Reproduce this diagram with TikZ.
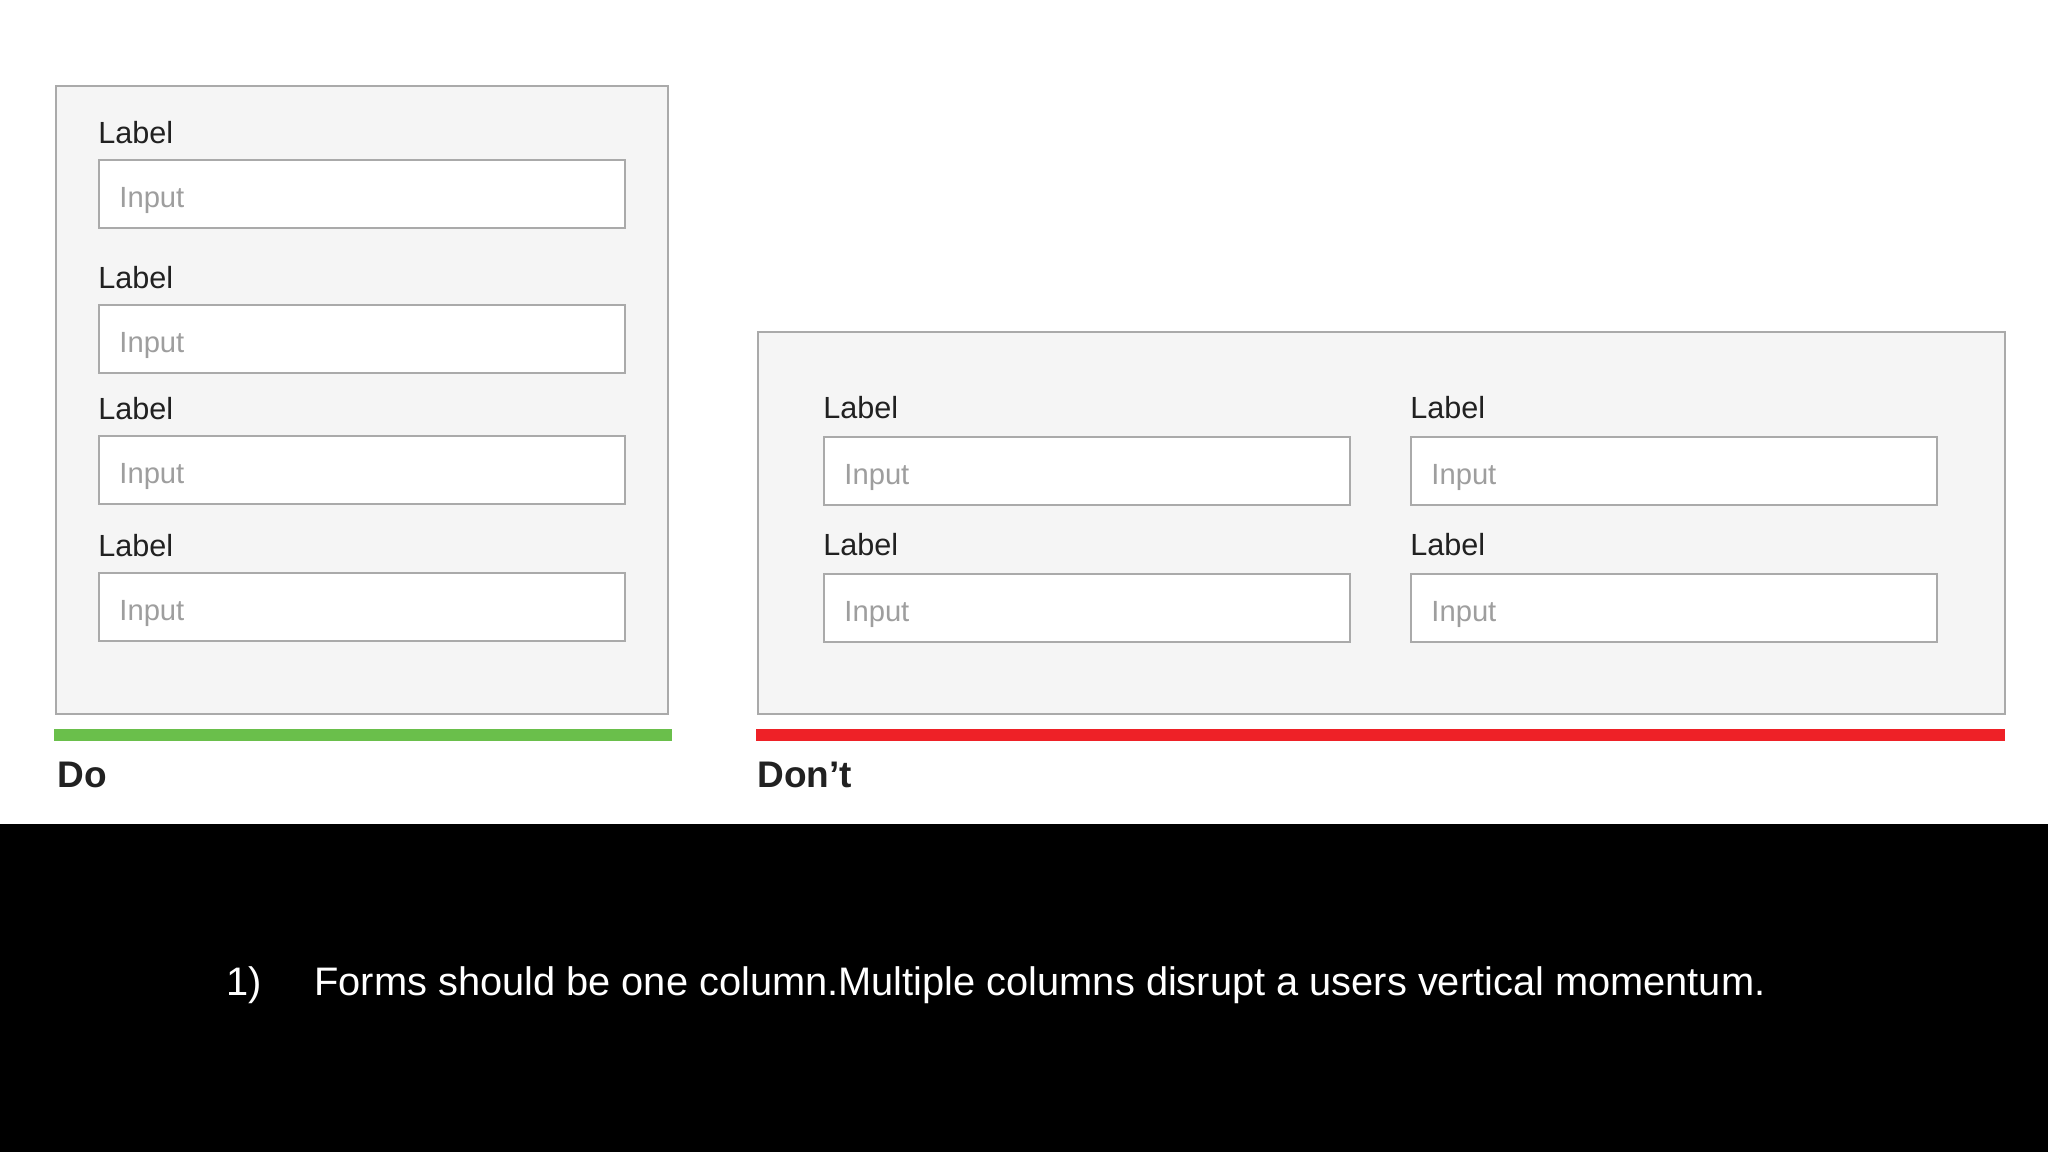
\documentclass[tikz,border=0pt]{standalone}
\usepackage{fontspec}
\setmainfont{Liberation Sans}
\usetikzlibrary{positioning}
\definecolor{panelgray}{HTML}{F5F5F5}
\definecolor{framegray}{HTML}{AAAAAA}
\definecolor{hintgray}{HTML}{9E9E9E}
\definecolor{labelink}{HTML}{212121}
\definecolor{dogreen}{HTML}{6ABF4B}
\definecolor{dontred}{HTML}{EE2127}
\begin{document}
\begin{tikzpicture}[x=0.5pt, y=-0.5pt]
\tikzstyle{panel} = [draw=framegray, line width=1pt, fill=panelgray, inner sep=0pt, anchor=north west]
\tikzstyle{field} = [draw=framegray, line width=1pt, fill=white, minimum width=263pt, minimum height=34pt, inner sep=0pt, anchor=north west]
\tikzstyle{caption} = [font=\fontsize{15.3}{18}\selectfont, text=labelink, anchor=base west, inner sep=0pt]
\tikzstyle{hint} = [font=\fontsize{14.6}{18}\selectfont, text=hintgray, anchor=base west, inner sep=0pt]
\tikzstyle{verdict} = [font=\bfseries\fontsize{18.5}{22}\selectfont, text=labelink, anchor=base west, inner sep=0pt]
\tikzstyle{note} = [font=\fontsize{19.9}{24}\selectfont, text=white, anchor=base west, inner sep=0pt]
\useasboundingbox (0,0) rectangle (2048,1152);
\fill[white] (0,0) rectangle (2048,824);
\fill[black] (0,824) rectangle (2048,1152);
% one column form
\node[panel, minimum width=306pt, minimum height=314pt] (dopanel) at (55,85) {};
\foreach \y [count=\i] in {159, 304, 435, 572} {
    \node[caption] (dolabel\i) at (98, \y-16) {Label};
    \node[field] (dofield\i) at (98, \y) {};
    \node[hint] (dohint\i) at (119, \y+48) {Input};
}
% two column form
\node[panel, minimum width=623.5pt, minimum height=191pt] (dontpanel) at (757,331) {};
\foreach \x [count=\j] in {823, 1410} {
    \foreach \y [count=\i] in {436, 573} {
        \node[caption] (dontlabel\j\i) at (\x, \y-18) {Label};
        \node[field] (dontfield\j\i) at (\x, \y) {};
        \node[hint] (donthint\j\i) at (\x+21, \y+48) {Input};
    }
}
\fill[dogreen] (54,729) rectangle (672,741);
\fill[dontred] (756,729) rectangle (2005,741);
\node[verdict] (do) at (57,787) {Do};
\node[verdict] (dont) at (757,787) {Don’t};
% caption strip
\node[note] (num) at (226,995) {1)};
\node[note] (rule) at (314,995) {Forms should be one column.Multiple columns disrupt a users vertical momentum.};
\end{tikzpicture}
\end{document}
